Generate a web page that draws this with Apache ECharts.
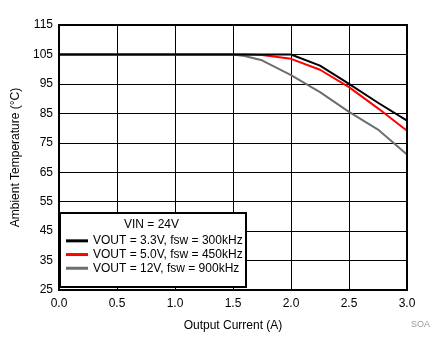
<!DOCTYPE html>
<html>
<head>
<meta charset="utf-8">
<script src="https://cdn.jsdelivr.net/npm/echarts@6/dist/echarts.min.js"></script>
<style>
  html, body { margin: 0; padding: 0; background: #fff; }
  #chart { width: 445px; height: 351px; }
</style>
</head>
<body>
<div id="chart"></div>
<script>
  // output current (A)
  const currents = [0, 0.5, 1.0, 1.5, 1.6, 1.75, 2.0, 2.25, 2.5, 2.75, 3.0]
  // ambient temperature (°C) per configuration
  const vout33 = [105, 105, 105, 105, 105, 105, 105, 101.2, 95, 88.6, 82.5]
  const vout50 = [105, 105, 105, 105, 105, 104.8, 103.5, 99.8, 93.9, 86.7, 79.1]
  const vout12 = [105, 105, 105, 105, 104.5, 103, 98, 92.2, 85.5, 79.5, 71]
  const seriesNames = ['VOUT = 3.3V, fsw = 300kHz', 'VOUT = 5.0V, fsw = 450kHz', 'VOUT = 12V, fsw = 900kHz']
  const seriesColors = ['#000000', '#ff0000', '#6e6e6e']

  const pair = arr => currents.map((x, i) => [x, arr[i]])
  const font = 'Arial, "Liberation Sans", sans-serif'

  const chart = echarts.init(document.getElementById('chart'))
  chart.setOption({
    animation: false,
    textStyle: { fontFamily: font },
    grid: { left: 59, right: 38, top: 25, bottom: 61 },
    xAxis: {
      type: 'value',
      min: 0,
      max: 3,
      interval: 0.5,
      name: 'Output Current (A)',
      nameLocation: 'middle',
      nameGap: 30,
      nameTextStyle: { color: '#000', fontSize: 12 },
      axisLine: { lineStyle: { color: '#000', width: 2 } },
      axisTick: { show: false },
      axisLabel: { color: '#000', fontSize: 12, margin: 8, formatter: v => v.toFixed(1) },
      splitLine: { lineStyle: { color: '#000', width: 1 } }
    },
    yAxis: {
      type: 'value',
      min: 25,
      max: 115,
      interval: 10,
      name: 'Ambient Temperature (°C)',
      nameLocation: 'middle',
      nameGap: 36,
      nameTextStyle: { color: '#000', fontSize: 12 },
      axisLine: { show: true, lineStyle: { color: '#000', width: 2 } },
      axisTick: { show: false },
      axisLabel: { color: '#000', fontSize: 12, margin: 6 },
      splitLine: { lineStyle: { color: '#000', width: 1 } }
    },
    graphic: [
      {
        type: 'rect',
        z: 10,
        shape: { x: 60, y: 213, width: 186, height: 74 },
        style: { fill: '#fff', stroke: '#000', lineWidth: 2 }
      },
      {
        type: 'text',
        z: 11,
        left: 124,
        top: 219,
        style: { text: 'VIN = 24V', fill: '#000', font: '12px ' + font }
      },
      {
        type: 'text',
        z: 11,
        right: 15,
        top: 320,
        style: { text: 'SOA', fill: '#999', font: '9px ' + font }
      },
      {
        // frame top and right edges
        type: 'rect',
        z: 5,
        shape: { x: 59, y: 25, width: 348, height: 265 },
        style: { fill: 'none', stroke: '#000', lineWidth: 2 }
      }
    ],
    legend: {
      z: 20,
      orient: 'vertical',
      left: 66,
      top: 234,
      icon: 'rect',
      itemWidth: 22,
      itemHeight: 3,
      itemGap: 0,
      padding: 0,
      textStyle: { color: '#000', fontSize: 12, lineHeight: 13.7 },
      data: seriesNames
    },
    series: [vout33, vout50, vout12].map((arr, i) => ({
      name: seriesNames[i],
      type: 'line',
      data: pair(arr),
      showSymbol: false,
      symbol: 'none',
      color: seriesColors[i],
      lineStyle: { color: seriesColors[i], width: 2 },
      z: 3 - i
    }))
  })
</script>
</body>
</html>
